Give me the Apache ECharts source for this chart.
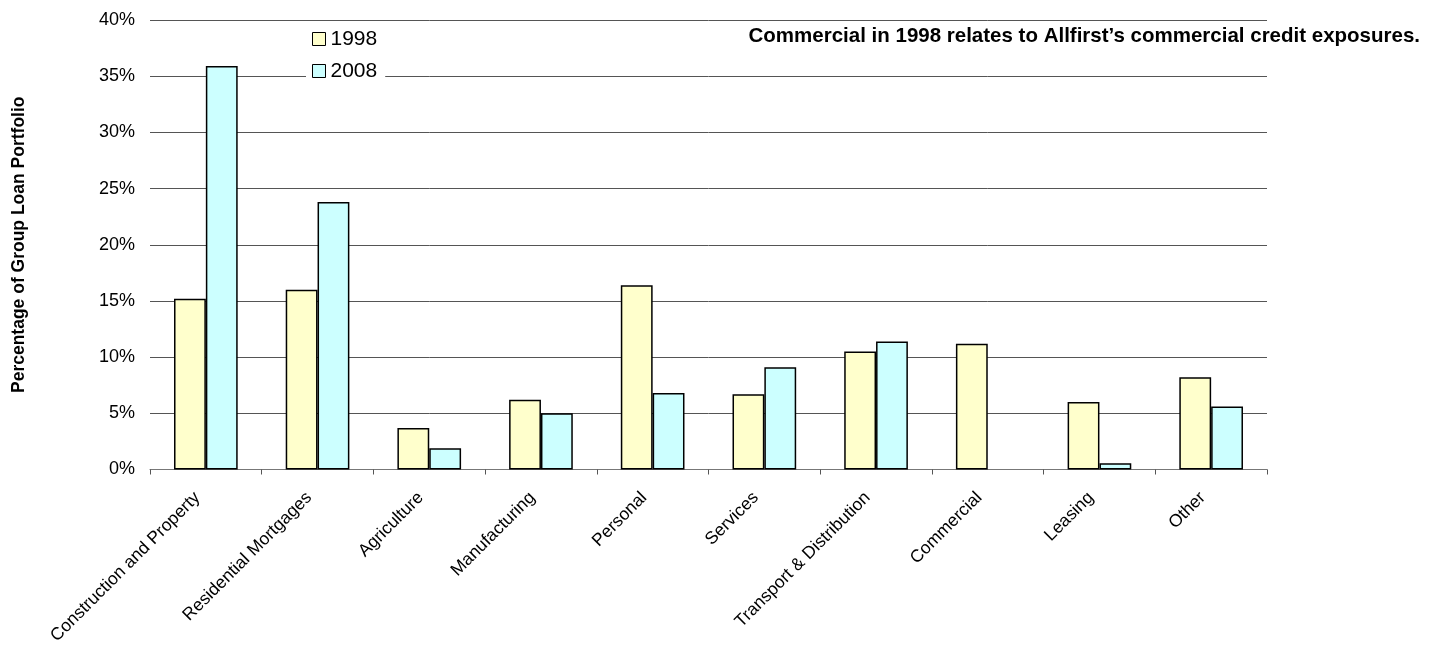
<!DOCTYPE html>
<html>
<head>
<meta charset="utf-8">
<script src="https://cdn.jsdelivr.net/npm/echarts@6/dist/echarts.min.js"></script>
<style>html,body{margin:0;padding:0;background:#fff}#c{width:1434px;height:645px}</style>
</head>
<body>
<div id="c"></div>
<script>
var categories = ["Construction and Property","Residential Mortgages","Agriculture","Manufacturing","Personal","Services","Transport & Distribution","Commercial","Leasing","Other"];
var values1998 = [15.2, 16.0, 3.7, 6.2, 16.4, 6.7, 10.5, 11.2, 6.0, 8.2];
var values2008 = [35.9, 23.8, 1.9, 5.0, 6.8, 9.1, 11.4, null, 0.55, 5.6];
var seriesNames = ["1998","2008"];
var yTicks = {min: 0, max: 40, interval: 5};
var note = "Commercial in 1998 relates to Allfirst\u2019s commercial credit exposures.";
var yTitle = "Percentage of Group Loan Portfolio";

var chart = echarts.init(document.getElementById('c'), null, {renderer: 'canvas'});
var font = 'Arial, "Liberation Sans", sans-serif';
chart.setOption({
  animation: false,
  backgroundColor: '#fff',
  grid: {left: 150, right: 167, top: 20, bottom: 175.5, containLabel: false, outerBoundsMode: 'none'},
  legend: {
    orient: 'vertical', left: 306, top: 26,
    itemWidth: 13, itemHeight: 13, itemGap: 10,
    backgroundColor: '#fff', padding: [2, 8, 2, 6],
    icon: 'rect',
    itemStyle: {borderColor: '#000', borderWidth: 1},
    textStyle: {fontFamily: font, fontSize: 21, lineHeight: 22, color: '#000'},
    data: seriesNames
  },
  xAxis: {
    type: 'category', data: categories, boundaryGap: true,
    axisLine: {lineStyle: {color: '#777', width: 1}},
    axisTick: {show: true, length: 5, lineStyle: {color: '#555'}},
    axisLabel: {rotate: 45, interval: 0, fontFamily: font, fontSize: 17.5, color: '#000', margin: 17, padding: [0, 12, 0, 0]}
  },
  yAxis: {
    type: 'value', min: yTicks.min, max: yTicks.max, interval: yTicks.interval,
    name: yTitle, nameLocation: 'middle', nameGap: 122,
    nameTextStyle: {fontFamily: font, fontSize: 17.5, fontWeight: 'bold', color: '#000'},
    axisLine: {show: false}, axisTick: {show: false},
    axisLabel: {formatter: '{value}%', fontFamily: font, fontSize: 18, color: '#000', margin: 15},
    splitLine: {lineStyle: {color: '#555', width: 1}}
  },
  graphic: [{
    type: 'text', right: 14, top: 26,
    style: {text: note, font: 'bold 20.5px Arial, "Liberation Sans", sans-serif', fill: '#000'}
  }],
  series: [
    {name: seriesNames[0], type: 'bar', data: values1998, barGap: '0%', barCategoryGap: '43%',
     itemStyle: {color: '#FFFFCC', borderColor: '#000', borderWidth: 1.5}},
    {name: seriesNames[1], type: 'bar', data: values2008, barGap: '0%', barCategoryGap: '43%',
     itemStyle: {color: '#CCFFFF', borderColor: '#000', borderWidth: 1.5}}
  ]
});
</script>
</body>
</html>
